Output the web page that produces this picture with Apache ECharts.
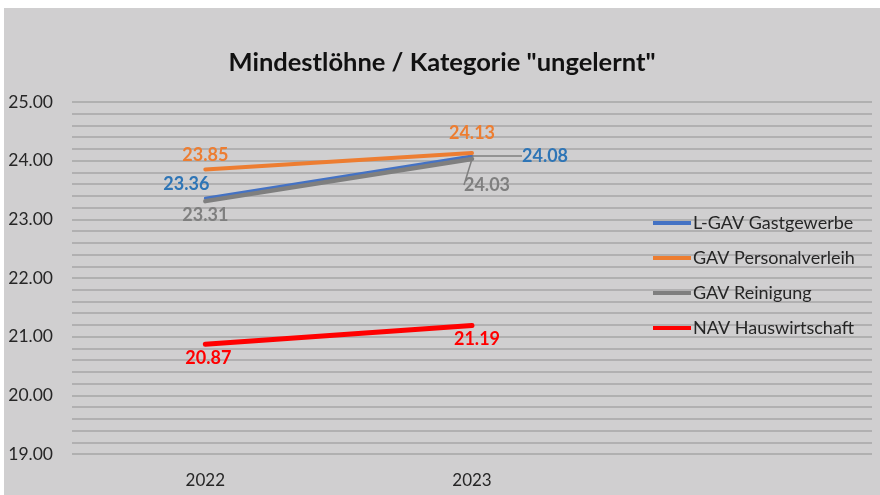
<!DOCTYPE html>
<html>
<head>
<meta charset="utf-8">
<script src="https://cdn.jsdelivr.net/npm/echarts@6/dist/echarts.min.js"></script>
<style>
html,body{margin:0;padding:0;background:#ffffff;width:880px;height:495px;overflow:hidden;}
#c{position:absolute;left:4px;top:8px;width:876px;height:487px;}
</style>
</head>
<body>
<div id="c"></div>
<script>
const categories = ['2022', '2023', ''];
const seriesNames = ['L-GAV Gastgewerbe', 'GAV Personalverleih', 'GAV Reinigung', 'NAV Hauswirtschaft'];
const gastgewerbe = [23.36, 24.08];
const personalverleih = [23.85, 24.13];
const reinigung = [23.31, 24.03];
const hauswirtschaft = [20.87, 21.19];
const yMin = 19, yMax = 25, yStep = 1;

const lineColors = ['#4472C4', '#ED7D31', '#7F7F7F', '#FF0000'];
const labelColors = ['#2E75B6', '#ED7D31', '#7F7F7F', '#FF0000'];
const widths = [3, 4, 4.5, 5];
const font = 'Lato, "Open Sans", sans-serif';

// label placement per series/point: [position, dx, dy, leader line]
const labelCfg = [
  [['top', -19, 0, false], ['right', 45, 0, true]],
  [['top', 0, 0, false], ['top', 0, -6, false]],
  [['bottom', 0, 0, false], ['bottom', 15, 12, true]],
  [['bottom', 3, 0, false], ['bottom', 5, 0, false]]
];

const allValues = [gastgewerbe, personalverleih, reinigung, hauswirtschaft];

const series = allValues.map((vals, s) => ({
  name: seriesNames[s],
  type: 'line',
  data: vals.map((v, i) => ({
    value: v,
    label: {
      show: true,
      position: labelCfg[s][i][0],
      color: labelColors[s],
      fontFamily: font,
      fontWeight: 'bold',
      fontSize: 18,
      distance: 5
    },
    labelLine: {show: labelCfg[s][i][3], lineStyle: {color: '#7F7F7F', width: 1.5}}
  })),
  showSymbol: true,
  symbol: 'circle',
  symbolSize: 0,
  lineStyle: {color: lineColors[s], width: widths[s], cap: 'round'},
  itemStyle: {color: lineColors[s]},
  z: s + 2,
  label: {
    show: true,
    color: labelColors[s],
    fontFamily: font,
    fontWeight: 'bold',
    fontSize: 18,
    distance: 5,
    formatter: p => p.value.toFixed(2)
  },
  labelLayout: function (p) {
    const c = labelCfg[s][p.dataIndex];
    return {dx: c[1], dy: c[2]};
  },
  emphasis: {disabled: true}
}));

const chart = echarts.init(document.getElementById('c'));
chart.setOption({
  backgroundColor: '#d0cfd0',
  animation: false,
  title: {
    text: 'Mindestlöhne / Kategorie "ungelernt"',
    left: 'center',
    top: 37,
    textStyle: {fontFamily: font, fontWeight: 'bold', fontSize: 25.5, color: '#111111'}
  },
  legend: {
    orient: 'vertical',
    left: 644,
    top: 201,
    itemGap: 17,
    itemWidth: 38,
    itemHeight: 4,
    icon: 'rect',
    data: seriesNames,
    textStyle: {fontFamily: font, fontSize: 18, color: '#262626', padding: [0, 0, 0, -3]}
  },
  grid: {left: 68, right: 8, top: 94, bottom: 41},
  xAxis: {
    type: 'category',
    data: categories,
    boundaryGap: true,
    axisLine: {show: false},
    axisTick: {show: false},
    axisLabel: {margin: 18, fontFamily: font, fontSize: 17, color: '#262626'}
  },
  yAxis: {
    type: 'value',
    min: yMin,
    max: yMax,
    interval: yStep,
    axisLine: {show: false},
    axisTick: {show: false},
    axisLabel: {margin: 19, fontFamily: font, fontSize: 17.5, color: '#262626',
      formatter: v => v.toFixed(2)},
    splitLine: {show: true, lineStyle: {color: '#a6a6a6', width: 1.5}},
    minorTick: {show: false, splitNumber: 5},
    minorSplitLine: {show: true, lineStyle: {color: '#a6a6a6', width: 1.5}}
  },
  series: series
});
</script>
</body>
</html>
